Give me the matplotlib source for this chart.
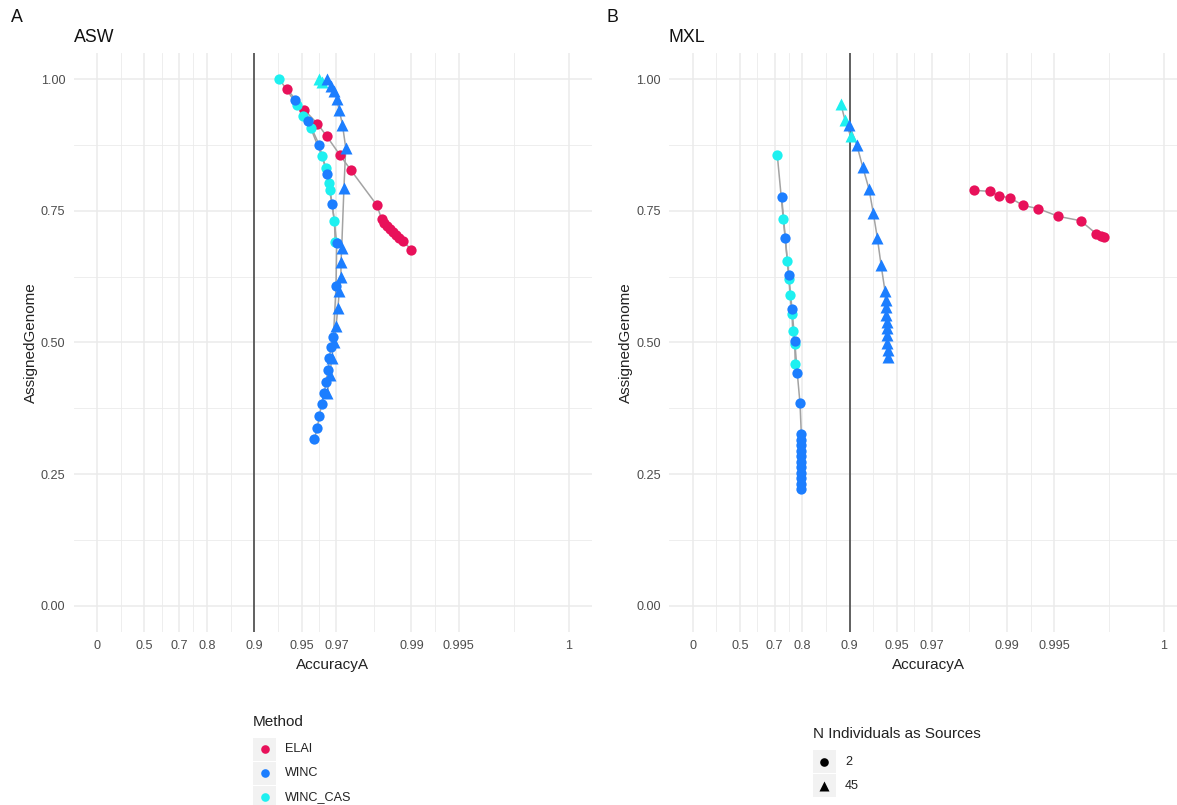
import numpy as np
import matplotlib
matplotlib.use("Agg")
from matplotlib import pyplot as plt
from matplotlib.lines import Line2D
from matplotlib.patches import Rectangle

plt.rcParams['font.family'] = ['Liberation Sans', 'DejaVu Sans']

# ---- ASW panel ----
asw_elai_acc = [0.9378, 0.9517, 0.9603, 0.9654, 0.9715, 0.9757, 0.9834, 0.9845, 0.9851,
                0.9857, 0.9863, 0.9869, 0.9875, 0.9880, 0.9887, 0.9900]
asw_elai_gen = [0.9814, 0.9420, 0.9154, 0.8913, 0.8555, 0.8270, 0.7605, 0.7342, 0.7272,
                0.7205, 0.7148, 0.7091, 0.7044, 0.6987, 0.6916, 0.6759]

asw_winc2_acc = [0.9449, 0.9547, 0.9613, 0.9655, 0.9681, 0.9701, 0.9698, 0.9686, 0.9674,
                 0.9667, 0.9662, 0.9649, 0.9642, 0.9628, 0.9614, 0.9603, 0.9585]
asw_winc2_gen = [0.9610, 0.9198, 0.8755, 0.8203, 0.7624, 0.6886, 0.6061, 0.5099, 0.4909,
                 0.4700, 0.4477, 0.4255, 0.4034, 0.3831, 0.3608, 0.3380, 0.3165]

asw_cas2_acc = [0.9307, 0.9463, 0.9512, 0.9562, 0.9629, 0.9650, 0.9665, 0.9668, 0.9691, 0.9694]
asw_cas2_gen = [1.0000, 0.9515, 0.9293, 0.9072, 0.8532, 0.8317, 0.8032, 0.7899, 0.7310, 0.6897]

asw_winc45_acc = [0.9654, 0.9674, 0.9689, 0.9701, 0.9711, 0.9725, 0.9738, 0.9731, 0.9722,
                  0.9719, 0.9719, 0.9712, 0.9706, 0.9698, 0.9689, 0.9678, 0.9670, 0.9657]
asw_winc45_gen = [1.0000, 0.9863, 0.9768, 0.9624, 0.9420, 0.9135, 0.8692, 0.7932, 0.6791,
                  0.6517, 0.6240, 0.5966, 0.5650, 0.5314, 0.5010, 0.4700, 0.4382, 0.4046]

asw_cas45_acc = [0.9614, 0.9629]
asw_cas45_gen = [1.0000, 0.9950]

# ---- MXL panel ----
mxl_elai_acc = [0.9839, 0.9872, 0.9887, 0.9905, 0.9921, 0.9937, 0.9953, 0.9966, 0.9973,
                0.9975, 0.9976]
mxl_elai_gen = [0.7886, 0.7867, 0.7785, 0.7741, 0.7601, 0.7538, 0.7392, 0.7310, 0.7063,
                0.7011, 0.6992]

mxl_winc2_acc = [0.7291, 0.7430, 0.7555, 0.7670, 0.7761, 0.7844, 0.7928, 0.7967, 0.7967,
                 0.7967, 0.7967, 0.7967, 0.7967, 0.7967, 0.7967, 0.7967, 0.7967, 0.7967]
mxl_winc2_gen = [0.7753, 0.6981, 0.6270, 0.5637, 0.5034, 0.4414, 0.3844, 0.3260, 0.3155,
                 0.3050, 0.2945, 0.2840, 0.2735, 0.2630, 0.2525, 0.2420, 0.2315, 0.2215]

mxl_cas2_acc = [0.7111, 0.7353, 0.7505, 0.7566, 0.7601, 0.7670, 0.7694, 0.7761, 0.7780]
mxl_cas2_gen = [0.8551, 0.7342, 0.6550, 0.6207, 0.5890, 0.5542, 0.5219, 0.4971, 0.4586]

mxl_winc45_acc = [0.8994, 0.9098, 0.9173, 0.9246, 0.9292, 0.9333, 0.9368, 0.9404, 0.9408,
                  0.9412, 0.9415, 0.9418, 0.9420, 0.9422, 0.9424, 0.9426, 0.9427]
mxl_winc45_gen = [0.9122, 0.8755, 0.8331, 0.7913, 0.7456, 0.6981, 0.6473, 0.5966, 0.5808,
                  0.5662, 0.5523, 0.5395, 0.5270, 0.5143, 0.4985, 0.4857, 0.4730]

mxl_cas45_acc = [0.8859, 0.8929, 0.9014]
mxl_cas45_gen = [0.9534, 0.9217, 0.8913]

acc_breaks = [0, 0.5, 0.7, 0.8, 0.9, 0.95, 0.97, 0.99, 0.995, 0.999]
acc_labels = ['0', '0.5', '0.7', '0.8', '0.9', '0.95', '0.97', '0.99', '0.995', '1']
gen_breaks = [0, 0.25, 0.5, 0.75, 1.0]

methods = ['ELAI', 'WINC', 'WINC_CAS']
colors = {'ELAI': '#E8115A', 'WINC': '#1C7EFF', 'WINC_CAS': '#1EF0F0'}
shapes = {2: 'o', 45: '^'}
sizes = {2: 7.4, 45: 8.6}


def fwd(x):
    x = np.asarray(x, dtype=float)
    with np.errstate(divide='ignore', invalid='ignore'):
        return -np.log10(np.clip(1 - x, 1e-12, None))


def inv(t):
    return 1 - 10 ** (-np.asarray(t, dtype=float))


W, H = 1177, 805
fig = plt.figure(figsize=(W / 100, H / 100), dpi=100)


def fx(px):
    return px / W


def fy(py):
    return 1 - py / H


def panel(left, title, tag, series):
    ax = fig.add_axes([fx(left), fy(632), 518.6 / W, 579.3 / H])
    ax.set_xscale('function', functions=(fwd, inv))
    ax.set_xlim(inv(-0.15), inv(3.15))
    ax.set_ylim(-0.05, 1.05)
    tb = fwd(acc_breaks)
    minor_x = inv((tb[:-1] + tb[1:]) / 2)
    ax.set_xticks(acc_breaks)
    ax.set_xticklabels(acc_labels)
    ax.set_xticks(minor_x, minor=True)
    ax.set_yticks(gen_breaks)
    ax.set_yticklabels(['%.2f' % v for v in gen_breaks])
    ax.set_yticks([0.125, 0.375, 0.625, 0.875], minor=True)
    ax.grid(True, which='major', color='#EBEBEB', lw=1.1)
    ax.grid(True, which='minor', color='#EBEBEB', lw=0.6)
    ax.set_axisbelow(True)
    for s in ax.spines.values():
        s.set_visible(False)
    ax.tick_params(which='both', length=0, labelsize=9.1, labelcolor='#4D4D4D', pad=6)
    ax.axvline(0.9, color='#3A3A3A', lw=1.1, zorder=1.5)
    for acc, gen, m, n in series:
        ax.plot(acc, gen, color='#A3A3A3', lw=1.1, zorder=2)
    for acc, gen, m, n in series:
        ax.plot(acc, gen, ls='none', marker=shapes[n], ms=sizes[n],
                mfc=colors[m], mec='none', zorder=3)
    ax.set_xlabel('AccuracyA', fontsize=11, color='#222222', labelpad=4)
    ax.set_ylabel('AssignedGenome', fontsize=11, color='#222222', labelpad=2)
    fig.text(fx(left), fy(37), title, fontsize=12.8, va='center', ha='left', color='#111111')
    fig.text(fx(left - 63), fy(18), tag, fontsize=12.8, va='center', ha='left', color='#111111')
    return ax


panel(73.6, 'ASW', 'A', [
    (asw_elai_acc, asw_elai_gen, 'ELAI', 2),
    (asw_cas2_acc, asw_cas2_gen, 'WINC_CAS', 2),
    (asw_winc2_acc, asw_winc2_gen, 'WINC', 2),
    (asw_cas45_acc, asw_cas45_gen, 'WINC_CAS', 45),
    (asw_winc45_acc, asw_winc45_gen, 'WINC', 45),
])
panel(669, 'MXL', 'B', [
    (mxl_elai_acc, mxl_elai_gen, 'ELAI', 2),
    (mxl_cas2_acc, mxl_cas2_gen, 'WINC_CAS', 2),
    (mxl_winc2_acc, mxl_winc2_gen, 'WINC', 2),
    (mxl_cas45_acc, mxl_cas45_gen, 'WINC_CAS', 45),
    (mxl_winc45_acc, mxl_winc45_gen, 'WINC', 45),
])


def legend(x0, ytitle, title, entries):
    fig.text(fx(x0), fy(ytitle), title, fontsize=11, va='center', ha='left', color='#222222')
    for i, (lab, marker, col, ms) in enumerate(entries):
        yc = ytitle + 27.5 + 24 * i
        fig.add_artist(Rectangle((fx(x0), fy(yc + 11.5)), 23 / W, 23 / H,
                                 transform=fig.transFigure, fc='#F2F2F2', ec='none'))
        fig.add_artist(Line2D([fx(x0 + 11.5)], [fy(yc)], transform=fig.transFigure,
                              ls='none', marker=marker, ms=ms, mfc=col, mec='none'))
        fig.text(fx(x0 + 32), fy(yc), lab, fontsize=9.1, va='center', ha='left', color='#222222')


legend(253, 721.5, 'Method', [(m, 'o', colors[m], 6.2) for m in methods])
legend(813, 734, 'N Individuals as Sources', [('2', 'o', 'black', 6.2), ('45', '^', 'black', 7.2)])

fig.savefig('out.png', dpi=100)
